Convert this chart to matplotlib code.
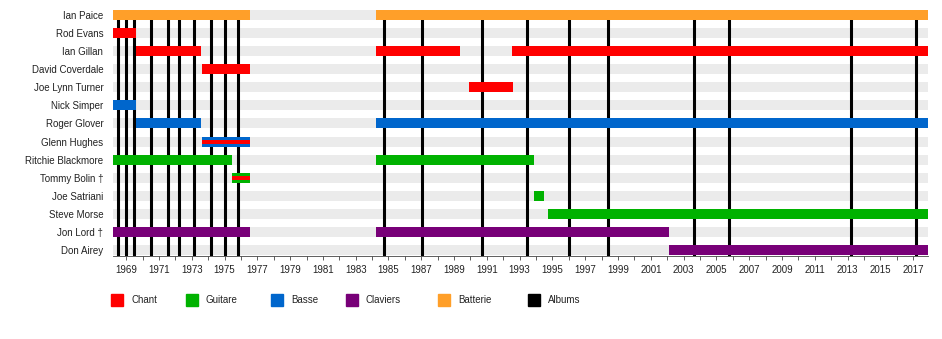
import matplotlib
matplotlib.use("Agg")
import matplotlib.pyplot as plt
from matplotlib.patches import Rectangle

plt.rcParams['font.family'] = ['Liberation Sans', 'DejaVu Sans']

# musiciens, de haut en bas
members = ['Ian Paice', 'Rod Evans', 'Ian Gillan', 'David Coverdale', 'Joe Lynn Turner',
           'Nick Simper', 'Roger Glover', 'Glenn Hughes', 'Ritchie Blackmore',
           'Tommy Bolin †', 'Joe Satriani', 'Steve Morse', 'Jon Lord †', 'Don Airey']

# périodes : (début, fin, instrument principal, instrument secondaire ou None)
periods = {
    'Ian Paice': [(1968.2, 1976.58, 'Batterie', None), (1984.26, 2017.9, 'Batterie', None)],
    'Rod Evans': [(1968.2, 1969.6, 'Chant', None)],
    'Ian Gillan': [(1969.6, 1973.55, 'Chant', None), (1984.26, 1989.39, 'Chant', None),
                   (1992.56, 2017.9, 'Chant', None)],
    'David Coverdale': [(1973.64, 1976.58, 'Chant', None)],
    'Joe Lynn Turner': [(1989.88, 1992.62, 'Chant', None)],
    'Nick Simper': [(1968.2, 1969.6, 'Basse', None)],
    'Roger Glover': [(1969.6, 1973.55, 'Basse', None), (1984.26, 2017.9, 'Basse', None)],
    'Glenn Hughes': [(1973.64, 1976.58, 'Basse', 'Chant')],
    'Ritchie Blackmore': [(1968.2, 1975.45, 'Guitare', None), (1984.26, 1993.86, 'Guitare', None)],
    'Tommy Bolin †': [(1975.45, 1976.58, 'Guitare', 'Chant')],
    'Joe Satriani': [(1993.86, 1994.5, 'Guitare', None)],
    'Steve Morse': [(1994.75, 2017.9, 'Guitare', None)],
    'Jon Lord †': [(1968.2, 1976.58, 'Claviers', None), (1984.26, 2002.08, 'Claviers', None)],
    'Don Airey': [(2002.08, 2017.9, 'Claviers', None)],
}

# sorties des albums studio
albums = [1968.5, 1969.0, 1969.48, 1970.5, 1971.53, 1972.22, 1973.13, 1974.19, 1975.0,
          1975.85, 1984.7, 1987.02, 1990.69, 1993.43, 1996.03, 1998.39, 2003.62,
          2005.74, 2013.18, 2017.14]

legend_labels = ['Chant', 'Guitare', 'Basse', 'Claviers', 'Batterie', 'Albums']
legend_colors = ['#ff0000', '#00b200', '#0066cc', '#780078', '#ff9f29', '#000000']
colors = dict(zip(legend_labels, legend_colors))

start, end = 1968.2, 2017.9
major_years = list(range(1969, 2018, 2))
minor_years = list(range(1969, 2018))

W, H = 942, 339
fig = plt.figure(figsize=(W / 100, H / 100), dpi=100)
ax = fig.add_axes([113 / W, 1 - 255.5 / H, 815 / W, 246 / H])

bar_h = 10 / 18.15
n = len(members)

# bandes grises de fond
for i in range(n):
    ax.barh(i, end - start, left=start, height=bar_h, color='#ebebeb', zorder=1)

# lignes verticales des albums
for a in albums:
    ax.axvline(a, color='black', lw=2.2, zorder=2)

# barres des membres
for i, name in enumerate(members):
    for s, e, inst, second in periods[name]:
        ax.barh(i, e - s, left=s, height=bar_h, color=colors[inst], zorder=3)
        if second:
            ax.barh(i, e - s, left=s, height=bar_h * 0.4, color=colors[second], zorder=4)

ax.set_xlim(start, end)
ax.set_ylim(n - 1 + bar_h / 2, -bar_h / 2)
ax.set_yticks(range(n))
ax.set_yticklabels(members, fontsize=7, color='#222222')
ax.tick_params(axis='y', length=0, pad=7)

ax.set_xticks(major_years)
ax.set_xticklabels([str(y) for y in major_years], fontsize=7, color='#222222')
ax.set_xticks(minor_years, minor=True)
ax.tick_params(axis='x', which='both', length=3, width=0.6, color='#444444', pad=4)

for side in ['top', 'right', 'left']:
    ax.spines[side].set_visible(False)
ax.spines['bottom'].set_color('#444444')
ax.spines['bottom'].set_linewidth(0.6)

# légende, positions des carrés en pixels
legend_x = [111, 186, 271, 346, 438, 528]
for x0, lab, col in zip(legend_x, legend_labels, legend_colors):
    fig.add_artist(Rectangle((x0 / W, 1 - 306 / H), 11.5 / W, 12.5 / H,
                             transform=fig.transFigure, color=col))
    fig.text((x0 + 20) / W, 1 - 300 / H, lab, fontsize=7, color='#222222', va='center')

fig.savefig('out.png', dpi=100)
